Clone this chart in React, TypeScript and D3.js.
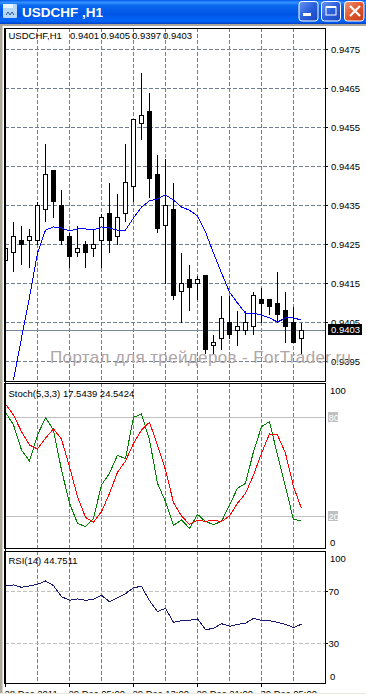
import React from "react";
import * as d3 from "d3";

const opens = [.9421,.9423,.9426,.9426,.9426,.9434,.9444,.9435,.9427,.9423,.9425,.9424,.9426,.9433,.9427,.9433,.9440,.9456,.9459,.9443,.9430,.9434,.9413,.9416,.9415,.9417,.9399,.9401,.9405,.9403,.9403,.9404,.9411,.9411,.9410,.9408,.9405,.9401];
const closes = [.9424,.9427,.9425,.9427,.9435,.9443,.9436,.9426,.9422,.9424,.9423,.9425,.9432,.9426,.9432,.9441,.9457,.9458,.9442,.9429,.9435,.9412,.9415,.9414,.9416,.9398,.9400,.9406,.9402,.9404,.9405,.9412,.9410,.9409,.9407,.9404,.9400,.9403];
const highs = [.9426,.9431,.9430,.9429,.9436,.9451,.9444,.9439,.9428,.9430,.9426,.9429,.9433,.9441,.9438,.9451,.9457,.9469,.9464,.9448,.9447,.9441,.9423,.9420,.9417,.9417,.9402,.9412,.9412,.9408,.9408,.9413,.9414,.9411,.9418,.9413,.9409,.9405];
const lows = [.9415,.9418,.9420,.9419,.9425,.9431,.9432,.9425,.9419,.9422,.9419,.9422,.9419,.9423,.9425,.9431,.9436,.9452,.9437,.9428,.9415,.9411,.9405,.9408,.9411,.9397,.9397,.9398,.9401,.9399,.9402,.9402,.9405,.9407,.9405,.9400,.9400,.9397];
const maValues = [null,.93903,.94010,.94115,.94228,.94287,.94295,.94292,.94285,.94290,.94290,.94287,.94295,.94292,.94287,.94287,.94318,.94346,.94362,.94367,.94377,.94364,.94346,.94338,.94323,.94282,.94228,.94177,.94128,.94100,.94074,.94074,.94069,.94062,.94051,.94062,.94062,.94056];
const stochMain = [82.8,75.2,60,53.3,69.1,79.6,72.1,47.9,27.7,15.6,13.5,18.6,38.8,45.9,56.8,54.7,79.8,81.8,66.1,39.8,28.7,14.3,17.6,12.5,21,16.6,14.9,16.6,26.7,36.8,39.8,59,74.1,77.2,57,37.8,17.6,17.54];
const stochSignal = [87.9,81.2,71.1,63,60.6,67.1,72.9,66.5,49.9,31.7,19.2,16.2,22.6,33.7,46.5,53.3,64,72.1,76.8,63,47.9,28.1,20,14.9,17.4,16.8,17.4,16.6,20,27.7,33.7,44.8,58,69.7,69.1,58,37.8,24.54];
const rsiValues = [74.1,74.9,73.1,74.1,75.4,77.9,74.4,65.9,63.1,64.1,63.1,63.8,66.9,62,64.9,68.2,72.8,73.8,62.8,54.4,56.9,46.2,47.4,47.7,48.7,40.5,41.5,45.1,43.1,44.6,45.4,49.2,47.7,47.4,46.2,44.6,42.1,44.75];
const priceTicks = [0.9475,0.9465,0.9455,0.9445,0.9435,0.9425,0.9415,0.9405,0.9395];
const gridBars = [4,8,12,16,20,24,28,32,36];
const timeLabels: [number, string][] = [[0,"28 Dec 2011"],[8,"29 Dec 05:00"],[16,"29 Dec 13:00"],[24,"29 Dec 21:00"],[32,"30 Dec 05:00"]];
const lastPrice = 0.9403;

const FONT = "'Liberation Sans', Arial, sans-serif";
const GRID = "#708090";
const L = 5, R = 325;

const x = d3.scaleLinear().domain([0, 37]).range([5.5, 301.5]);
const yP = d3.scaleLinear().domain([0.9475, 0.9395]).range([49.5, 361.5]);
const yS = d3.scaleLinear().domain([0, 100]).range([549, 384]);
const yR = d3.scaleLinear().domain([0, 100]).range([682.3, 552.3]);
const snap = (v: number) => Math.floor(v) + 0.5;

const mk = (s: d3.ScaleLinear<number, number>) =>
  d3.line<number | null>().defined(d => d !== null).x((_, i) => x(i)).y(d => s(d as number));

const T = (p: any) => <text fontFamily={FONT} fontSize={9.5} fill="#000" {...p} />;

function Panel({ top, bottom, clip }: { top: number; bottom: number; clip: string }) {
  return (
    <>
      <clipPath id={clip}><rect x={L} y={top} width={R - L} height={bottom - top} /></clipPath>
      <g clipPath={`url(#${clip})`} shapeRendering="crispEdges">
        {gridBars.map(b => (
          <line key={b} x1={x(b)} x2={x(b)} y1={top} y2={bottom} stroke={GRID} strokeDasharray="4 2" />
        ))}
      </g>
    </>
  );
}

export default function App() {
  const pf = d3.format(".4f");
  return (
    <svg width={366} height={694} style={{ position: "absolute", left: 0, top: 0, background: "#fff" }}>
      <defs>
        <linearGradient id="tb" x1="0" y1="0" x2="0" y2="1">
          <stop offset="0" stopColor="#0058ee" />
          <stop offset="0.1" stopColor="#3593ff" />
          <stop offset="0.22" stopColor="#0a68f0" />
          <stop offset="0.6" stopColor="#0055e5" />
          <stop offset="0.88" stopColor="#0066f8" />
          <stop offset="1" stopColor="#0040c8" />
        </linearGradient>
        <linearGradient id="btn" x1="0" y1="0" x2="1" y2="1">
          <stop offset="0" stopColor="#6a96f0" />
          <stop offset="0.5" stopColor="#2a5fdc" />
          <stop offset="1" stopColor="#1a45c0" />
        </linearGradient>
        <linearGradient id="cls" x1="0" y1="0" x2="1" y2="1">
          <stop offset="0" stopColor="#ee9a80" />
          <stop offset="0.5" stopColor="#e0562c" />
          <stop offset="1" stopColor="#c23a18" />
        </linearGradient>
      </defs>

      {/* window chrome */}
      <rect x={0} y={0} width={366} height={24} fill="url(#tb)" />
      <rect x={0} y={24} width={366} height={2} fill="#aca899" />
      <rect x={0} y={24} width={2.5} height={670} fill="#aca899" />
      <rect x={3} y={4} width={14} height={14} rx={1} fill="#b8d8f8" />
      <rect x={3} y={4} width={10} height={4} fill="#e8f4ff" />
      <path d="M6 15 l2 -3 l2 3 l2 -3 l2 3" stroke="#2a5a9a" fill="none" />
      <text x={22} y={17} fontFamily="'Liberation Sans', Arial, sans-serif" fontWeight="bold" fontSize={13.5} fill="#fff">USDCHF ,H1</text>
      <g stroke="#fff">
        <rect x={299} y={1.5} width={19} height={19.5} rx={3} fill="url(#btn)" />
        <rect x={321.5} y={1.5} width={19} height={19.5} rx={3} fill="url(#btn)" />
        <rect x={344.5} y={1.5} width={19.5} height={19.5} rx={3} fill="url(#cls)" />
      </g>
      <rect x={303} y={13} width={8} height={3} fill="#fff" />
      <rect x={326} y={7} width={10} height={8} fill="none" stroke="#fff" />
      <rect x={326} y={6} width={10} height={2} fill="#fff" />
      <path d="M350 6 L360 16 M360 6 L350 16" stroke="#fff" strokeWidth={2.2} />

      {/* main pane */}
      <Panel top={28} bottom={381} clip="cMain" />
      <g shapeRendering="crispEdges">
        {priceTicks.map(p => (
          <g key={p}>
            <line x1={L} x2={R} y1={snap(yP(p))} y2={snap(yP(p))} stroke={GRID} strokeDasharray="4 2" />
            <line x1={R} x2={R + 3} y1={snap(yP(p))} y2={snap(yP(p))} stroke="#000" />
          </g>
        ))}
      </g>
      {priceTicks.map(p => (
        <T key={p} x={331} y={yP(p) + 3.5}>{pf(p)}</T>
      ))}
      <text x={50} y={363} fontFamily={FONT} fontSize={17} fill="#b0a6a6" textLength={301} lengthAdjust="spacing">Портал для трейдеров - ForTrader.ru</text>
      <line x1={L} x2={R} y1={snap(yP(lastPrice))} y2={snap(yP(lastPrice))} stroke="#778899" shapeRendering="crispEdges" />
      <g clipPath="url(#cMain)" shapeRendering="crispEdges">
        {opens.map((o, i) => {
          const c = closes[i];
          const up = c > o;
          const t = snap(yP(Math.max(o, c)));
          const b = snap(yP(Math.min(o, c)));
          return (
            <g key={i}>
              <line x1={x(i)} x2={x(i)} y1={snap(yP(highs[i]))} y2={snap(yP(lows[i]))} stroke="#000" />
              <rect x={x(i) - 2} y={t} width={4} height={b - t} fill={up ? "#fff" : "#000"} stroke="#000" />
            </g>
          );
        })}
        <path d={mk(yP)(maValues) ?? ""} fill="none" stroke="#0000ff" />
      </g>
      <rect x={328} y={324} width={34} height={11} fill="#000" />
      <T x={331} y={333} fill="#fff">{pf(lastPrice)}</T>
      <T x={8.5} y={39}>USDCHF,H1</T>
      {[opens[37], highs[37], lows[37], closes[37]].map((v, i) => (
        <T key={i} x={70 + i * 31} y={39}>{pf(v)}</T>
      ))}

      {/* stochastic pane */}
      <Panel top={383} bottom={548} clip="cS" />
      <g shapeRendering="crispEdges">
        {[80, 20].map(v => (
          <g key={v}>
            <line x1={L} x2={R} y1={snap(yS(v))} y2={snap(yS(v))} stroke="#c0c0c0" />
            <rect x={328} y={yS(v) - 5} width={10} height={10} fill="#c0c0c0" />
          </g>
        ))}
      </g>
      {[80, 20].map(v => <T key={v} x={328.5} y={yS(v) + 3.5} fill="#fff">{v}</T>)}
      <g clipPath="url(#cS)" shapeRendering="crispEdges">
        <path d={mk(yS)(stochMain) ?? ""} fill="none" stroke="#008000" />
        <path d={mk(yS)(stochSignal) ?? ""} fill="none" stroke="#ff0000" />
      </g>
      <T x={330} y={394}>100</T>
      <T x={330} y={546}>0</T>
      <T x={8.5} y={397}>Stoch(5,3,3) 17.5439 24.5424</T>

      {/* RSI pane */}
      <Panel top={551} bottom={683} clip="cR" />
      <g shapeRendering="crispEdges">
        {[70, 30].map(v => (
          <g key={v}>
            <line x1={L} x2={R} y1={snap(yR(v))} y2={snap(yR(v))} stroke="#c0c0c0" strokeDasharray="4 2" />
            <line x1={R} x2={R + 3} y1={snap(yR(v))} y2={snap(yR(v))} stroke="#000" />
          </g>
        ))}
      </g>
      {[70, 30].map(v => <T key={v} x={328.5} y={yR(v) + 3.5}>{v}</T>)}
      <g clipPath="url(#cR)" shapeRendering="crispEdges">
        <path d={mk(yR)(rsiValues) ?? ""} fill="none" stroke="#191970" />
      </g>
      <T x={330} y={561.5}>100</T>
      <T x={330} y={680}>0</T>
      <T x={8.5} y={564}>RSI(14) 44.7511</T>

      {/* pane frames */}
      <g fill="none" stroke="#000" shapeRendering="crispEdges">
        <rect x={4.5} y={28.5} width={321} height={352.5} />
        <rect x={4.5} y={383.5} width={321} height={165} />
        <rect x={4.5} y={551.5} width={321} height={131.5} />
        <line x1={5.5} x2={5.5} y1={28} y2={683} />
      </g>

      {/* time axis */}
      <g shapeRendering="crispEdges">
        {timeLabels.map(([b]) => (
          <line key={b} x1={x(b)} x2={x(b)} y1={683} y2={687} stroke="#000" />
        ))}
      </g>
      {timeLabels.map(([b, s]) => (
        <T key={b} x={x(b) - 1} y={696.5}>{s}</T>
      ))}
      <rect x={0} y={693} width={366} height={1} fill="#ece9d8" />
    </svg>
  );
}
